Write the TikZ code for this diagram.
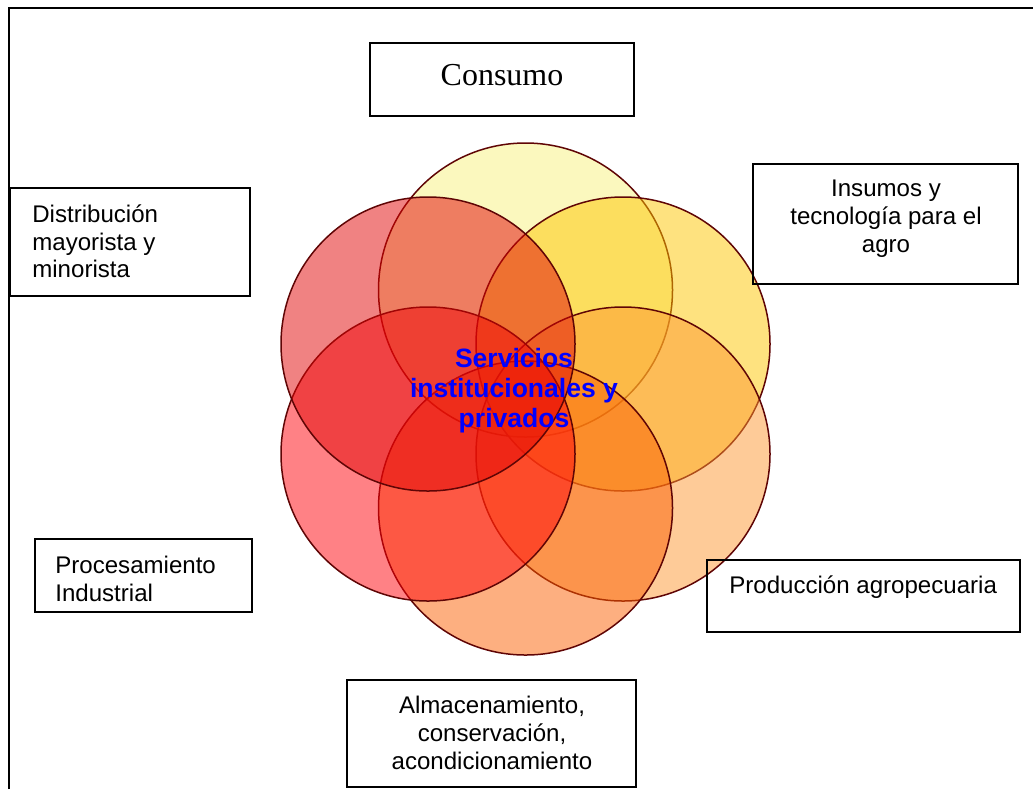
\documentclass[tikz,border=0pt]{standalone}
\usepackage{fontspec}
\setmainfont{Liberation Sans}
\newfontfamily\timesface{Liberation Serif}
\usepackage{tikz}
\definecolor{petalline}{RGB}{95,5,5}
\definecolor{petalA}{RGB}{247,241,125}
\definecolor{petalB}{RGB}{253,197,0}
\definecolor{petalC}{RGB}{253,151,49}
\definecolor{petalD}{RGB}{251,95,1}
\definecolor{petalE}{RGB}{255,3,11}
\definecolor{petalF}{RGB}{225,5,5}
\tikzset{
  stage/.style={
    draw,
    line width=0.04cm,
    shape=rectangle,
    inner sep=0
  },
  stagetext/.style={
    inner sep=0,
    font=\fontsize{13.7}{15.9}\selectfont
  },
  petal/.style={
    draw=petalline,
    line width=0.03cm,
    fill opacity=0.5
  },
  core/.style={
    inner sep=0,
    align=center,
    text=blue,
    font=\fontsize{15.1}{17}\selectfont\bfseries
  }
}
\begin{document}
\begin{tikzpicture}[x=0.02cm,y=-0.02cm]
    \useasboundingbox (0,0) rectangle (1033,789);
    \draw[line width=0.04cm] (9,789)--(9,8)--(1033,8);
    % petals
    \filldraw[petal, fill=petalA] (525.5,290) circle (147);
    \filldraw[petal, fill=petalB] (623,344) circle (147);
    \filldraw[petal, fill=petalC] (623,454) circle (147);
    \filldraw[petal, fill=petalD] (525.5,508) circle (147);
    \filldraw[petal, fill=petalE] (428,454) circle (147);
    \filldraw[petal, fill=petalF] (428,344) circle (147);
    \node[core, anchor=north] (serv) at (514,348) {Servicios\\institucionales y\\privados};
    % stages
    \node[stage, minimum width=5.28cm, minimum height=1.46cm] (cons) at (502,79.5) {};
    \node[inner sep=0, anchor=base, font=\timesface\fontsize{18.2}{21}\selectfont] (constext) at (502,85) {Consumo};
    \node[stage, minimum width=4.8cm, minimum height=2.16cm] (dist) at (130,242) {};
    \node[stagetext, align=left, anchor=north west] (disttext) at (32,204) {Distribución\\mayorista y\\minorista};
    \node[stage, minimum width=5.3cm, minimum height=2.4cm] (ins) at (885.5,224) {};
    \node[stagetext, align=center, anchor=north] (instext) at (886,180) {Insumos y\\tecnología para el\\agro};
    \node[stage, minimum width=4.34cm, minimum height=1.46cm] (proc) at (143.5,575.5) {};
    \node[stagetext, align=left, anchor=north west] (proctext) at (55,555.5) {Procesamiento\\Industrial};
    \node[stage, minimum width=5.78cm, minimum height=2.14cm] (alm) at (491.5,733.5) {};
    \node[stagetext, align=center, anchor=north] (almtext) at (492,695.5) {Almacenamiento,\\conservación,\\acondicionamiento};
    \node[stage, minimum width=6.26cm, minimum height=1.44cm] (prod) at (863.5,596) {};
    \node[stagetext, align=left, anchor=north west] (prodtext) at (729,575) {Producción agropecuaria};
\end{tikzpicture}
\end{document}
